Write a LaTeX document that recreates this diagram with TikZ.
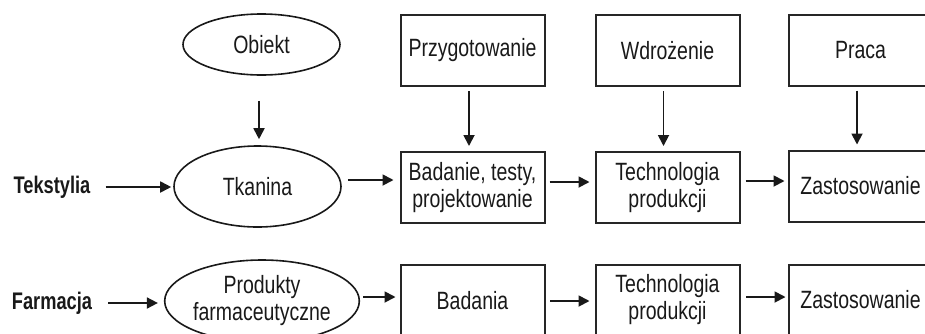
\documentclass[tikz,border=0pt]{standalone}
\usepackage{fontspec}
\setmainfont[FakeStretch=0.78]{Liberation Sans}
\newfontfamily\lblfont[FakeStretch=0.76]{Liberation Sans}
\usetikzlibrary{shapes.geometric,arrows.meta}
\begin{document}
\begin{tikzpicture}[x=1pt,y=-1pt,
  every node/.style={inner sep=0pt,font=\fontsize{25}{27}\selectfont,text=black!90},
  stage/.style={draw=black!85,line width=2pt,minimum width=144pt,minimum height=71pt,align=center},
  oval/.style={ellipse,draw=black!90,line width=1.6pt,align=center},
  lbl/.style={font=\lblfont\fontsize{24}{27}\selectfont\bfseries},
  arr/.style={-{Triangle[length=11pt,width=11pt]},line width=1.8pt,draw=black!90}]
\useasboundingbox (0,0) rectangle (925,333);

% left labels
\node[lbl] (tek)  at (52,187) {Tekstylia};
\node[lbl] (farm) at (52,303) {Farmacja};

% ellipses
\node[oval,minimum width=157pt,minimum height=61pt] (obj)  at (261.5,44.5) {Obiekt};
\node[oval,minimum width=167pt,minimum height=81pt] (tk)   at (257.5,186.5) {Tkanina};
\node[oval,minimum width=160pt,minimum height=82pt] (prod) at (262,301) {Produkty\\farmaceutyczne};

% top row
\node[stage] (prz) at (472.5,50.5) {Przygotowanie};
\node[stage] (wdr) at (667.5,50.5) {Wdrożenie};
\node[stage] (pra) at (860.5,50) {Praca};

% textile row
\node[stage] (bad)   at (472.5,187.5) {Badanie, testy,\\projektowanie};
\node[stage] (tech1) at (667.5,187.5) {Technologia\\produkcji};
\node[stage] (zas1)  at (860.5,186) {Zastosowanie};

% pharmacy row
\node[stage] (bad2)  at (472.5,300.5) {Badania};
\node[stage] (tech2) at (667.5,300) {Technologia\\produkcji};
\node[stage] (zas2)  at (860.5,300) {Zastosowanie};

% vertical arrows
\draw[arr,shorten <=25pt,shorten >=6pt] ([xshift=-2.5pt]obj.south) -- ([xshift=1.5pt]tk.north);
\draw[arr,shorten <=4pt,shorten >=5pt] ([xshift=-3.5pt]prz.south) -- ([xshift=-3.5pt]bad.north);
\draw[arr,shorten <=4pt,shorten >=5pt] ([xshift=-4pt]wdr.south) -- ([xshift=-4pt]tech1.north);
\draw[arr,shorten <=4pt,shorten >=5pt] ([xshift=-3.5pt]pra.south) -- ([xshift=-3.5pt]zas1.north);

% textile row arrows
\draw[arr,shorten <=15pt,shorten >=2pt] (tek.east) -- ([yshift=-0.5pt]tk.west);
\draw[arr,shorten <=6pt,shorten >=6pt] ([yshift=6.5pt]tk.east) -- ([yshift=7.5pt]bad.west);
\draw[arr,shorten <=4pt,shorten >=5pt] ([yshift=5.5pt]bad.east) -- ([yshift=5.5pt]tech1.west);
\draw[arr,shorten <=5pt,shorten >=3pt] ([yshift=6.5pt]tech1.east) -- ([yshift=5pt]zas1.west);

% pharmacy row arrows
\draw[arr,shorten <=16pt,shorten >=6pt] (farm.east) -- ([yshift=-2pt]prod.west);
\draw[arr,shorten <=3pt,shorten >=4pt] ([yshift=4pt]prod.east) -- ([yshift=3.5pt]bad2.west);
\draw[arr,shorten <=4.5pt,shorten >=5pt] ([yshift=-0.5pt]bad2.east) -- ([yshift=-1pt]tech2.west);
\draw[arr,shorten <=5.5pt,shorten >=2pt] ([yshift=3pt]tech2.east) -- ([yshift=3pt]zas2.west);
\end{tikzpicture}
\end{document}
